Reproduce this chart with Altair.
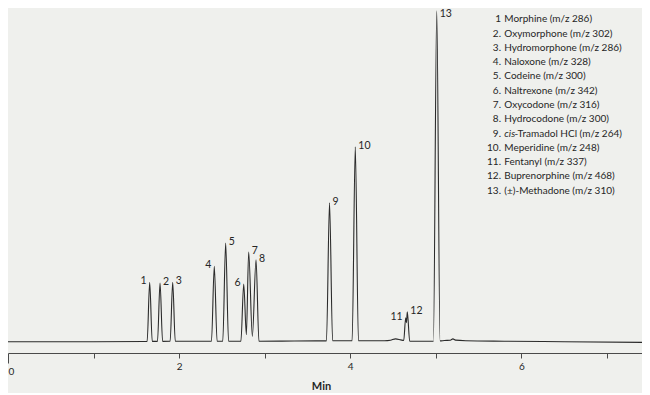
import altair as alt
import pandas as pd

# ---- chromatogram trace (retention time in min, detector signal) ----
trace_time = [0.00, 1.00, 1.60, 1.626, 1.656, 1.686, 1.747, 1.777, 1.807, 1.895, 1.925, 1.955,
              2.30, 2.378, 2.411, 2.444, 2.510, 2.544, 2.578, 2.70, 2.722, 2.755, 2.786, 2.813,
              2.856, 2.899, 2.933, 3.20, 3.60, 3.722, 3.758, 3.794, 4.022, 4.059, 4.096, 4.40,
              4.47, 4.53, 4.59, 4.625, 4.648, 4.657, 4.667, 4.695, 4.95, 4.972, 5.011, 5.050,
              5.10, 5.17, 5.20, 5.23, 5.35, 5.80, 6.50, 7.41]
trace_signal = [0.0, 0.0, 0.2, 0.3, 59.3, 0.3, 0.3, 58.7, 0.3, 0.4, 59.3, 0.4,
                0.4, 0.4, 75.3, 0.4, 0.4, 98.7, 0.4, 0.4, 0.5, 57.7, 7.0, 89.7,
                5.3, 82.0, 0.5, 0.6, 0.8, 0.8, 139.0, 0.9, 1.0, 195.0, 1.0, 1.0,
                1.5, 2.8, 1.8, 1.2, 24.0, 19.0, 30.0, 0.6, 0.5, 0.5, 331.0, 0.8,
                1.2, 1.5, 2.8, 1.6, 1.0, 0.5, 0.0, -0.7]

# ---- peak labels ----
peak_labels = ["1", "2", "3", "4", "5", "6", "7", "8", "9", "10", "11", "12", "13"]
peak_time = [1.656, 1.777, 1.925, 2.411, 2.544, 2.755, 2.813, 2.899, 3.758, 4.059, 4.648, 4.667, 5.011]
peak_height = [59.3, 58.7, 59.3, 75.3, 98.7, 57.7, 89.7, 82.0, 139.0, 195.0, 24.0, 30.0, 331.0]
label_side = ["left", "right", "right", "left", "right", "left", "right", "right",
              "right", "right", "left", "right", "right"]

# ---- compound list ----
legend_num = ["1", "2.", "3.", "4.", "5.", "6.", "7.", "8.", "9.", "10.", "11.", "12.", "13."]
legend_name = ["Morphine (m/z 286)", "Oxymorphone (m/z 302)", "Hydromorphone (m/z 286)",
               "Naloxone (m/z 328)", "Codeine (m/z 300)", "Naltrexone (m/z 342)",
               "Oxycodone (m/z 316)", "Hydrocodone (m/z 300)", "cis-Tramadol HCl (m/z 264)",
               "Meperidine (m/z 248)", "Fentanyl (m/z 337)", "Buprenorphine (m/z 468)",
               "(±)-Methadone (m/z 310)"]

trace = pd.DataFrame({"time": trace_time, "signal": trace_signal})
peaks = pd.DataFrame({"label": peak_labels, "time": peak_time,
                      "height": peak_height, "side": label_side})
legend = pd.DataFrame({"num": legend_num, "name": legend_name, "row": list(range(len(legend_num)))})

FONT = "Lato"
INK = "#262626"

xscale = alt.Scale(domain=[0, 7.41], nice=False, zero=False)
yscale = alt.Scale(domain=[-11.3, 333.7], nice=False, zero=False)

x_axis = alt.Axis(
    values=list(range(8)),
    labelExpr="datum.value % 2 === 0 ? format(datum.value, 'd') : ''",
    title="Min",
    grid=False,
    labelFlush=True,
    tickSize={"condition": {"test": "datum.value === 0", "value": 10}, "value": 5},
    labelPadding=3,
    titlePadding=4,
    titleX=313,
    domainColor="#4a4a4a",
    tickColor="#4a4a4a",
    labelColor=INK,
    titleColor=INK,
    labelFont=FONT,
    labelFontSize=10,
    titleFont=FONT,
    titleFontSize=11,
    titleFontWeight="bold",
)

line = alt.Chart(trace).mark_line(
    interpolate="monotone", color="#2b2b2b", strokeWidth=1.1
).encode(
    x=alt.X("time:Q", scale=xscale, axis=x_axis),
    y=alt.Y("signal:Q", scale=yscale, axis=None),
)

lab_base = alt.Chart(peaks).encode(
    x=alt.X("time:Q", scale=xscale),
    y=alt.Y("height:Q", scale=yscale, axis=None),
    text="label:N",
)
lab_right = lab_base.transform_filter("datum.side === 'right' && datum.height < 300").mark_text(
    align="left", baseline="middle", dx=3, dy=-1, font=FONT, fontSize=10.5, color=INK)
lab_top = lab_base.transform_filter("datum.height >= 300").mark_text(
    align="left", baseline="middle", dx=3, dy=3.5, font=FONT, fontSize=10.5, color=INK)
lab_left = lab_base.transform_filter("datum.side === 'left'").mark_text(
    align="right", baseline="middle", dx=-3, dy=-1, font=FONT, fontSize=10.5, color=INK)

leg_base = alt.Chart(legend).transform_calculate(ly="322.4 - 14.28 * datum.row")
leg_y = alt.Y("ly:Q", scale=yscale, axis=None)
txt = dict(baseline="middle", font=FONT, fontSize=10, color=INK)

leg_num = leg_base.mark_text(align="right", **txt).encode(
    x=alt.value(493), y=leg_y, text="num:N")
leg_name = leg_base.transform_filter("datum.row !== 8").mark_text(align="left", **txt).encode(
    x=alt.value(496.3), y=leg_y, text="name:N")
leg_cis = leg_base.transform_filter("datum.row === 8").transform_calculate(
    part="slice(datum.name, 0, 3)").mark_text(align="left", fontStyle="italic", **txt).encode(
    x=alt.value(496.3), y=leg_y, text="part:N")
leg_rest = leg_base.transform_filter("datum.row === 8").transform_calculate(
    part="slice(datum.name, 3)").mark_text(align="left", **txt).encode(
    x=alt.value(506.5), y=leg_y, text="part:N")

chart = alt.layer(line, lab_right, lab_top, lab_left, leg_num, leg_name, leg_cis, leg_rest).properties(
    width=634,
    height=345,
    background="#eff0ed",
    padding={"left": 0, "top": 0, "right": 0, "bottom": 40},
    autosize=alt.AutoSizeParams(type="none"),
).configure_view(stroke=None)

chart.save("out.html", embed_options={"renderer": "svg", "actions": False})
